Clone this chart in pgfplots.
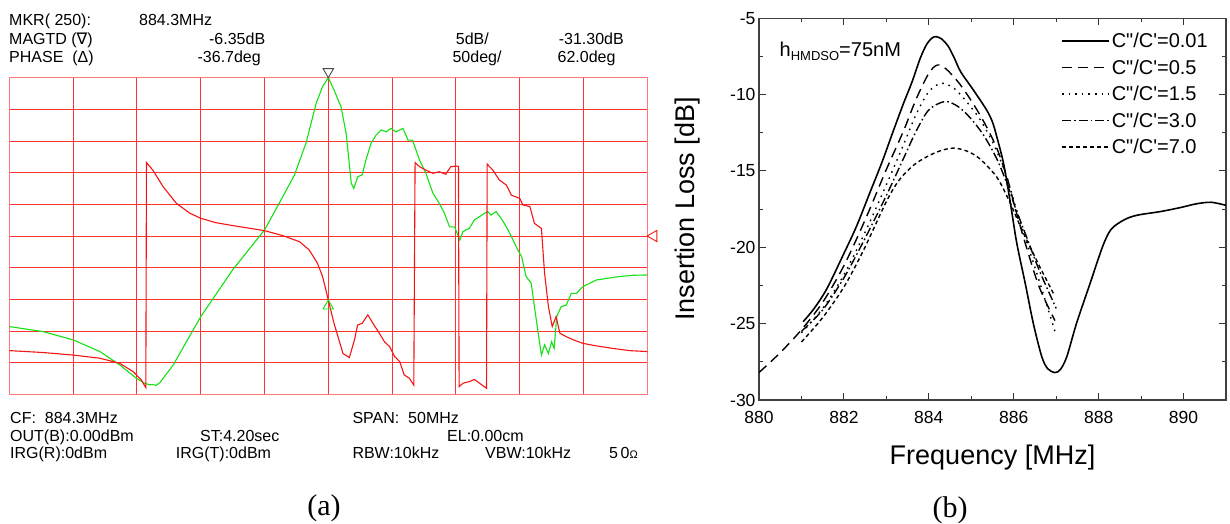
\documentclass[border=0pt]{standalone}
\usepackage{fontspec}
\setmainfont{Liberation Sans}
\newfontfamily\seriffont{Liberation Serif}
\newfontfamily\djv{DejaVu Sans}
\usepackage{pgfplots}
\pgfplotsset{compat=1.18}
\definecolor{trgreen}{RGB}{20,225,20}
\definecolor{trred}{RGB}{245,20,20}
\definecolor{gridred}{RGB}{255,50,50}
\definecolor{borderred}{RGB}{255,120,120}
\newcommand{\an}{\fontsize{16}{18}\selectfont}
\newcommand{\cc}{C\textquotedbl/C\textquotesingle}
\begin{document}
\begin{tikzpicture}
\path[use as bounding box] (0pt,0pt) rectangle (1230pt,-523pt);
% ---------------- panel (a) text -----------------
\begin{scope}[every node/.style={inner sep=0pt, font=\an}]
\node[anchor=base west] at (9pt,-25.5pt) {MKR( 250):};
\node[anchor=base west] at (139pt,-25.5pt) {884.3MHz};
\node[anchor=base west] at (9pt,-44.5pt) {MAGTD ({\djv ∇})};
\node[anchor=base east] at (265.4pt,-44.5pt) {-6.35dB};
\node[anchor=base east] at (489pt,-44.5pt) {5dB/};
\node[anchor=base east] at (624pt,-44.5pt) {-31.30dB};
\node[anchor=base west] at (9pt,-62.5pt) {PHASE\ \ (Δ)};
\node[anchor=base east] at (261pt,-62.5pt) {-36.7deg};
\node[anchor=base east] at (501.7pt,-62.5pt) {50deg/};
\node[anchor=base east] at (615.7pt,-62.5pt) {62.0deg};
\node[anchor=base west] at (10pt,-423.4pt) {CF:\ \ 884.3MHz};
\node[anchor=base west] at (352.3pt,-423.4pt) {SPAN:\ \ 50MHz};
\node[anchor=base west] at (10pt,-441.4pt) {OUT(B):0.00dBm};
\node[anchor=base west] at (200pt,-441.4pt) {ST:4.20sec};
\node[anchor=base west] at (447pt,-441.4pt) {EL:0.00cm};
\node[anchor=base west] at (10pt,-458pt) {IRG(R):0dBm};
\node[anchor=base west] at (175.7pt,-458pt) {IRG(T):0dBm};
\node[anchor=base west] at (352.3pt,-458pt) {RBW:10kHz};
\node[anchor=base west] at (485pt,-458pt) {VBW:10kHz};
\node[anchor=base east] at (638pt,-458pt) {5\,0{\fontsize{11}{12}\selectfont Ω}};
\end{scope}
\node[inner sep=0pt, font=\seriffont\fontsize{30}{32}\selectfont] at (324pt,-508pt) {(a)};
\node[inner sep=0pt, font=\seriffont\fontsize{30}{32}\selectfont] at (950pt,-510pt) {(b)};
% ---------------- panel (a) plot -----------------
\begin{axis}[at={(9.3pt,-394.3pt)}, anchor=south west, scale only axis,
  width=638pt, height=316.6pt,
  xmin=0, xmax=10, ymin=0, ymax=10,
  xtick={0,...,10}, ytick={0,...,10},
  xticklabels={}, yticklabels={},
  major tick length=0pt,
  grid=major,
  major grid style={draw=gridred, line width=0.9pt},
  axis line style={draw=borderred, line width=1.5pt},
  clip=false]
\addplot[trgreen, line width=1.1pt] coordinates {
(0,2.14)(0.53,1.98)(1.0,1.72)(1.42,1.35)(1.73,0.93)(1.99,0.51)(2.12,0.35)(2.2,0.3)(2.25,0.31)(2.3,0.28)(2.36,0.37)(2.57,0.93)(3.0,2.45)(3.5,3.93)(4.0,5.19)(4.23,6.03)(4.47,6.93)(4.65,7.93)(4.81,9.19)(4.91,9.72)(5.0,10.0)(5.09,9.61)(5.2,9.08)(5.28,8.24)(5.36,6.66)(5.40,6.5)(5.46,6.87)(5.53,6.93)(5.59,7.4)(5.67,7.93)(5.75,8.19)(5.83,8.35)(5.91,8.29)(5.98,8.4)(6.06,8.29)(6.17,8.4)(6.25,8.03)(6.32,8.03)(6.43,7.4)(6.53,6.98)(6.64,6.35)(6.74,6.03)(6.82,5.72)(6.90,5.29)(6.98,5.29)(7.06,4.87)(7.11,5.14)(7.21,5.24)(7.29,5.51)(7.37,5.61)(7.45,5.72)(7.50,5.77)(7.55,5.66)(7.63,5.77)(7.71,5.56)(7.79,5.29)(7.87,4.98)(7.97,4.56)(8.03,4.35)(8.10,3.72)(8.18,3.51)(8.26,2.35)(8.34,1.24)(8.39,1.56)(8.45,1.29)(8.50,1.66)(8.54,1.45)(8.58,2.45)(8.65,2.77)(8.73,2.82)(8.81,3.19)(8.89,3.19)(8.99,3.4)(9.10,3.51)(9.20,3.61)(9.36,3.66)(9.57,3.72)(9.78,3.76)(10,3.77)
};
\addplot[trred, line width=1.1pt] coordinates {
(0,1.38)(0.53,1.32)(1.0,1.24)(1.42,1.14)(1.73,0.98)(1.94,0.72)(2.07,0.45)(2.14,0.21)(2.15,7.32)(2.25,7.08)(2.41,6.56)(2.62,6.03)(2.83,5.72)(3.0,5.56)(3.24,5.42)(3.5,5.33)(4.0,5.17)(4.29,5.01)(4.55,4.82)(4.70,4.56)(4.83,4.14)(4.91,3.72)(5.0,2.98)(5.09,2.24)(5.23,1.29)(5.33,1.16)(5.41,1.72)(5.46,2.19)(5.53,2.24)(5.62,2.51)(5.70,2.24)(5.80,1.93)(5.88,1.66)(5.96,1.51)(6.04,1.19)(6.12,1.03)(6.19,0.61)(6.27,0.51)(6.34,0.29)(6.36,7.32)(6.43,7.19)(6.53,7.08)(6.64,6.98)(6.74,7.03)(6.84,6.95)(6.92,7.19)(7.01,7.21)(7.04,7.2)(7.05,0.24)(7.11,0.35)(7.21,0.4)(7.29,0.47)(7.37,0.35)(7.48,0.19)(7.49,7.27)(7.58,7.08)(7.68,6.77)(7.79,6.61)(7.87,6.29)(8.0,6.19)(8.05,5.98)(8.16,5.93)(8.23,5.4)(8.34,5.24)(8.39,3.82)(8.45,2.77)(8.51,2.14)(8.57,2.45)(8.63,1.93)(8.73,1.82)(8.84,1.72)(8.99,1.61)(9.20,1.53)(9.46,1.45)(9.72,1.38)(10,1.35)
};
\addplot[only marks, mark=triangle, mark size=6pt, mark options={black!70, rotate=180, line width=0.9pt, fill=white}] coordinates {(5,10.19)};
\addplot[only marks, mark=triangle, mark size=6pt, mark options={trgreen, line width=0.9pt, fill=white}] coordinates {(5,2.79)};
\addplot[only marks, mark=triangle, mark size=6.5pt, mark options={trred, rotate=90, line width=0.9pt, fill=white}] coordinates {(10.1,5)};
\end{axis}
% ---------------- panel (b) -----------------
\begin{axis}[at={(759pt,-400pt)}, anchor=south west, scale only axis,
  width=467pt, height=381.7pt,
  xmin=880, xmax=891, ymin=-30, ymax=-5,
  xtick={880,882,...,890}, xticklabels={880,882,884,886,888,890},
  ytick={-30,-25,...,-5}, yticklabels={-30,-25,-20,-15,-10,-5},
  minor x tick num=1, minor y tick num=1,
  tick align=inside, major tick length=7pt, minor tick length=4pt,
  tick style={black!80, line width=1pt},
  axis line style={black!75, line width=1.3pt},
  ticklabel style={font=\fontsize{17.5}{19}\selectfont},
  xticklabel style={yshift=-8pt},
  xlabel={Frequency [MHz]}, ylabel={Insertion Loss [dB]},
  label style={font=\fontsize{27}{30}\selectfont},
  xlabel style={at={(axis description cs:0.5,-0.151)}, anchor=center},
  ylabel style={at={(axis description cs:-0.153,0.5)}, anchor=center},
  legend style={draw=none, fill=none, at={(axis description cs:0.972,0.972)}, anchor=north east,
    font=\fontsize{20}{22}\selectfont, row sep=6.5pt,
    /tikz/every even column/.append style={column sep=9pt}},
  legend cell align=left,
  legend image code/.code={\draw[#1] (0pt,0pt) -- (47pt,0pt);},
  every axis plot/.append style={black, line width=1.4pt, smooth, tension=0.5}]
\addplot[solid, line width=1.6pt] coordinates {
(881.04,-24.87)(881.3,-24.0)(881.6,-22.7)(882.0,-20.4)(882.3,-18.6)(882.6,-16.5)(882.9,-14.4)(883.16,-12.4)(883.4,-10.6)(883.6,-9.2)(883.8,-7.6)(883.95,-6.7)(884.07,-6.3)(884.17,-6.2)(884.3,-6.35)(884.45,-6.8)(884.6,-7.6)(884.75,-8.5)(885.05,-9.7)(885.36,-11.0)(885.5,-11.8)(885.6,-12.75)(885.76,-14.5)(885.91,-16.9)(886.07,-19.7)(886.27,-22.35)(886.46,-24.97)(886.66,-27.16)(886.8,-27.95)(886.97,-28.2)(887.1,-28.0)(887.25,-27.16)(887.48,-24.97)(887.8,-22.35)(888.1,-19.9)(888.3,-18.8)(888.6,-18.2)(888.9,-17.9)(889.45,-17.66)(889.92,-17.4)(890.3,-17.15)(890.65,-17.05)(891.0,-17.25)
};
\addlegendentry{\cc=0.01}
\addplot[dash pattern=on 10pt off 6pt] coordinates {
(880.0,-28.2)(880.5,-26.9)(881.0,-25.4)(881.5,-23.6)(882.0,-21.2)(882.5,-18.2)(883.0,-14.9)(883.4,-12.4)(883.7,-10.3)(884.0,-8.6)(884.2,-8.06)(884.4,-8.3)(884.7,-9.2)(885.0,-10.4)(885.3,-11.8)(885.6,-13.5)(885.85,-15.5)(886.05,-17.6)(886.3,-20.0)(886.6,-22.6)(886.97,-24.8)
};
\addlegendentry{\cc=0.5}
\addplot[dash pattern=on 1.6pt off 5pt] coordinates {
(881.0,-25.6)(881.5,-24.0)(882.0,-21.8)(882.5,-19.0)(883.0,-15.9)(883.4,-13.3)(883.7,-11.3)(884.0,-9.8)(884.3,-9.25)(884.6,-9.6)(884.9,-10.5)(885.2,-11.6)(885.5,-13.1)(885.8,-15.1)(886.05,-17.4)(886.3,-19.6)(886.6,-22.2)(886.97,-25.5)
};
\addlegendentry{\cc=1.5}
\addplot[dash pattern=on 9pt off 3pt on 1.6pt off 3pt] coordinates {
(881.0,-25.5)(881.5,-24.1)(882.0,-22.0)(882.5,-19.4)(883.0,-16.6)(883.4,-14.2)(883.7,-12.4)(884.0,-11.0)(884.38,-10.45)(884.7,-10.8)(885.0,-11.6)(885.3,-12.7)(885.6,-14.2)(885.85,-15.9)(886.05,-17.5)(886.3,-19.3)(886.6,-21.5)(887.0,-24.0)
};
\addlegendentry{\cc=3.0}
\addplot[dash pattern=on 4pt off 3pt] coordinates {
(881.0,-26.2)(881.5,-24.6)(882.0,-22.6)(882.46,-20.2)(883.0,-17.0)(883.3,-15.6)(883.65,-14.6)(884.0,-14.0)(884.3,-13.65)(884.59,-13.5)(884.9,-13.7)(885.2,-14.2)(885.6,-15.4)(885.9,-17.0)(886.2,-18.9)(886.6,-21.2)(886.95,-23.1)
};
\addlegendentry{\cc=7.0}
\end{axis}
\node[anchor=base west, inner sep=0pt, font=\fontsize{20}{22}\selectfont] at (779.5pt,-56pt)
  {h\raisebox{-4.5pt}{\fontsize{13}{14}\selectfont HMDSO}=75nM};
\end{tikzpicture}
\end{document}
